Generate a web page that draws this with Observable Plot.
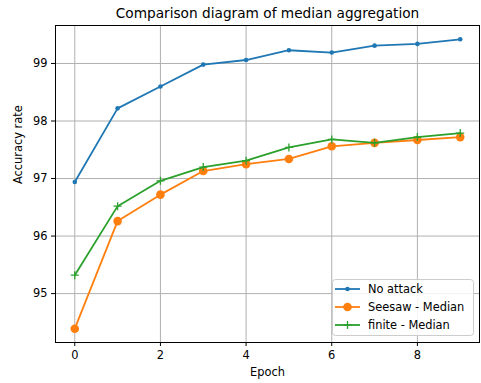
<!DOCTYPE html>
<html>
<head>
<meta charset="utf-8">
<script src="https://cdn.jsdelivr.net/npm/d3@7"></script>
<script src="https://cdn.jsdelivr.net/npm/@observablehq/plot@0.6"></script>
<style>
  html, body { margin: 0; padding: 0; background: white; }
  #wrap { position: relative; width: 481px; height: 383px; font-family: "DejaVu Sans", sans-serif; }
  #legend { position: absolute; left: 332px; top: 279px; }
</style>
</head>
<body>
<div id="wrap"></div>
<script>
const titleText = "Comparison diagram of median aggregation";
const xLabel = "Epoch";
const yLabel = "Accuracy rate";
const epochs = [0, 1, 2, 3, 4, 5, 6, 7, 8, 9];
const noAttack = [96.94, 98.22, 98.60, 98.98, 99.06, 99.23, 99.19, 99.31, 99.34, 99.42];
const seesawMedian = [94.39, 96.26, 96.72, 97.13, 97.25, 97.34, 97.56, 97.62, 97.67, 97.72];
const finiteMedian = [95.32, 96.52, 96.96, 97.20, 97.31, 97.54, 97.68, 97.62, 97.72, 97.79];
const seriesNames = ["No attack", "Seesaw - Median", "finite - Median"];
const seriesColors = ["#1f77b4", "#ff7f0e", "#2ca02c"];
const xTicks = [0, 2, 4, 6, 8];
const yTicks = [95, 96, 97, 98, 99];

const seriesValues = [noAttack, seesawMedian, finiteMedian];
const rows = [];
seriesValues.forEach((vals, si) => vals.forEach((v, i) => rows.push({epoch: epochs[i], acc: v, series: seriesNames[si]})));
const bySeries = name => rows.filter(d => d.series === name);

const plusSymbol = {
  draw(ctx, size) {
    const r = Math.sqrt(size / Math.PI);
    ctx.moveTo(-r, 0); ctx.lineTo(r, 0);
    ctx.moveTo(0, -r); ctx.lineTo(0, r);
  }
};

const chart = Plot.plot({
  width: 481,
  height: 383,
  marginLeft: 55,
  marginRight: 2,
  marginTop: 25,
  marginBottom: 41,
  style: {fontFamily: "DejaVu Sans, sans-serif", fontSize: "11.4px", color: "black", background: "white"},
  x: {domain: [-0.45, 9.45]},
  y: {domain: [94.15, 99.66]},
  marks: [
    Plot.gridX(xTicks, {stroke: "#b0b0b0", strokeOpacity: 1, strokeWidth: 1}),
    Plot.gridY(yTicks, {stroke: "#b0b0b0", strokeOpacity: 1, strokeWidth: 1}),
    Plot.axisX({ticks: xTicks, tickSize: 4, tickPadding: 4, label: null, tickFormat: d => String(d), fontSize: "11.4px"}),
    Plot.axisY({ticks: yTicks, tickSize: 4, tickPadding: 4, label: null, tickFormat: d => String(d), fontSize: "11.4px"}),
    Plot.line(bySeries(seriesNames[0]), {x: "epoch", y: "acc", stroke: seriesColors[0], strokeWidth: 1.8}),
    Plot.dot(bySeries(seriesNames[0]), {x: "epoch", y: "acc", fill: seriesColors[0], r: 2.3}),
    Plot.line(bySeries(seriesNames[1]), {x: "epoch", y: "acc", stroke: seriesColors[1], strokeWidth: 1.8}),
    Plot.dot(bySeries(seriesNames[1]), {x: "epoch", y: "acc", fill: seriesColors[1], r: 4.3}),
    Plot.line(bySeries(seriesNames[2]), {x: "epoch", y: "acc", stroke: seriesColors[2], strokeWidth: 1.8}),
    Plot.dot(bySeries(seriesNames[2]), {x: "epoch", y: "acc", symbol: plusSymbol, fill: "none", stroke: seriesColors[2], strokeWidth: 1.3, r: 4}),
    Plot.frame({stroke: "black", strokeWidth: 1}),
    Plot.text([titleText], {frameAnchor: "top", dy: -8, lineAnchor: "bottom", fontSize: 13.7, fill: "black"}),
    Plot.text([xLabel], {frameAnchor: "bottom", dy: 33, fontSize: 11.4, fill: "black"}),
    Plot.text([yLabel], {frameAnchor: "left", dx: -37, rotate: -90, fontSize: 11.4, fill: "black"})
  ]
});
document.getElementById("wrap").appendChild(chart);

// legend
const lg = d3.select("#wrap").append("div").attr("id", "legend");
const lsvg = lg.append("svg").attr("width", 143).attr("height", 58);
lsvg.append("rect").attr("x", 0.5).attr("y", 0.5).attr("width", 141).attr("height", 56)
  .attr("rx", 3).attr("fill", "white").attr("fill-opacity", 0.85).attr("stroke", "#cccccc");
seriesNames.forEach((name, i) => {
  const cy = 10 + i * 18;
  const g = lsvg.append("g");
  g.append("line").attr("x1", 3).attr("x2", 28).attr("y1", cy).attr("y2", cy)
    .attr("stroke", seriesColors[i]).attr("stroke-width", 1.8);
  if (i === 0) g.append("circle").attr("cx", 15.5).attr("cy", cy).attr("r", 2.3).attr("fill", seriesColors[i]);
  if (i === 1) g.append("circle").attr("cx", 15.5).attr("cy", cy).attr("r", 4.3).attr("fill", seriesColors[i]);
  if (i === 2) g.append("path").attr("d", `M11.5,${cy}H19.5M15.5,${cy-4}V${cy+4}`).attr("stroke", seriesColors[i]).attr("stroke-width", 1.3);
  g.append("text").attr("x", 36).attr("y", cy).attr("dy", "0.35em")
    .attr("font-family", "DejaVu Sans, sans-serif").attr("font-size", "11.4px").attr("fill", "black").text(name);
});
</script>
</body>
</html>
